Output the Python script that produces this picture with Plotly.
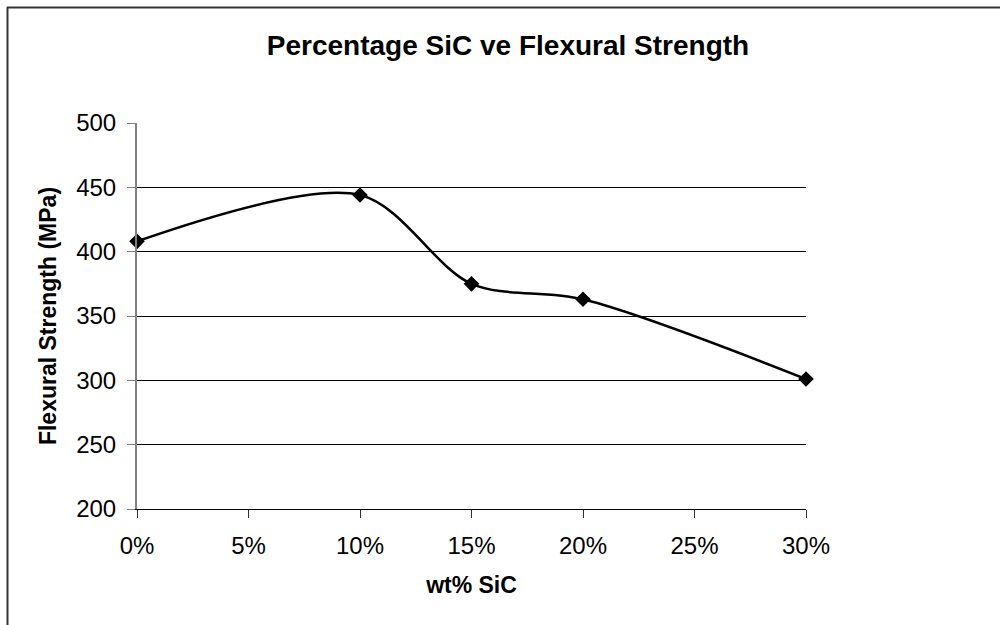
import plotly.graph_objects as go

# SiC content (weight fraction) and measured flexural strength
sic_fraction = [0.00, 0.10, 0.15, 0.20, 0.30]
flexural_strength_mpa = [408, 444, 375, 363, 301]

x_ticks = [0.00, 0.05, 0.10, 0.15, 0.20, 0.25, 0.30]
y_ticks = [200, 250, 300, 350, 400, 450, 500]

W, H = 1000, 625
M_L, M_R, M_T, M_B = 137, 194, 123, 116
FONT = "Liberation Sans, Arial, sans-serif"

fig = go.Figure()
fig.add_trace(go.Scatter(
    x=sic_fraction,
    y=flexural_strength_mpa,
    mode="lines+markers",
    line=dict(color="#000000", width=2.5, shape="spline", smoothing=0.9),
    marker=dict(symbol="diamond", size=12, color="#000000"),
    cliponaxis=False,
    showlegend=False,
    hoverinfo="x+y",
))

# outer chart-area frame (top and left edges are visible)
px_w = W - M_L - M_R
px_h = H - M_T - M_B
fx = lambda px: (px - M_L) / px_w
fy = lambda py: (H - M_B - py) / px_h
frame = dict(type="line", xref="paper", yref="paper",
             line=dict(color="#333333", width=2), layer="above")
fig.add_shape(x0=fx(7), x1=fx(W + 5), y0=fy(7.5), y1=fy(7.5), **frame)
fig.add_shape(x0=fx(7.5), x1=fx(7.5), y0=fy(7), y1=fy(H + 5), **frame)

fig.update_layout(
    width=W, height=H,
    margin=dict(l=M_L, r=M_R, t=M_T, b=M_B),
    paper_bgcolor="#ffffff",
    plot_bgcolor="#ffffff",
    font=dict(family=FONT, color="#000000", size=24),
    title=dict(
        text="<b>Percentage SiC ve Flexural Strength</b>",
        font=dict(family=FONT, size=28, color="#000000"),
        xref="container", x=0.508, xanchor="center",
        yref="container", y=1 - 45 / H, yanchor="middle",
    ),
    xaxis=dict(
        range=[0, 0.30],
        tickvals=x_ticks,
        tickformat=".0%",
        showgrid=False,
        zeroline=False,
        showline=True, linecolor="#000000", linewidth=1,
        ticks="outside", ticklen=8, tickcolor="#333333", tickwidth=1,
        ticklabelstandoff=7,
        tickfont=dict(size=24),
        title=dict(text="<b>wt% SiC</b>", font=dict(size=23), standoff=19),
    ),
    yaxis=dict(
        range=[200, 500],
        tickvals=y_ticks,
        showgrid=True, gridcolor="#000000", gridwidth=1,
        zeroline=False,
        showline=True, linecolor="#808080", linewidth=2,
        ticks="outside", ticklen=8, tickcolor="#808080", tickwidth=1,
        ticklabelstandoff=6,
        tickfont=dict(size=24),
        title=dict(text="<b>Flexural Strength (MPa)</b>", font=dict(size=23), standoff=13),
    ),
)

fig.write_html("out.html")
